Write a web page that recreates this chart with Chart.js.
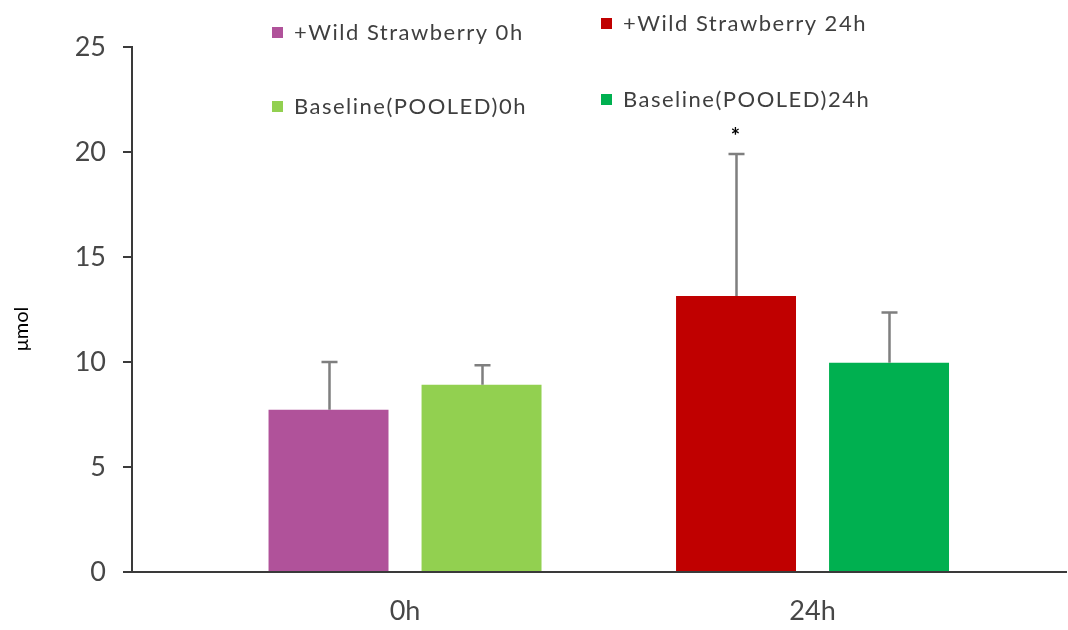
<!DOCTYPE html>
<html>
<head>
<meta charset="utf-8">
<script src="https://cdn.jsdelivr.net/npm/chart.js@4"></script>
<style>
  html, body { margin: 0; padding: 0; background: #ffffff; }
  #wrap { width: 1068px; height: 630px; }
</style>
</head>
<body>
<div id="wrap"><canvas id="c" width="1068" height="630"></canvas></div>
<script>
// Time points on the x axis
const timepoints = ['0h', '24h'];

// Mean concentration (µmol) per group
const wildStrawberry = [7.73, 13.14];
const baselinePooled = [8.92, 9.97];

// Standard deviation (drawn upward only)
const wildStrawberrySD = [2.27, 6.77];
const baselinePooledSD = [0.92, 2.39];

// Legend entries, one per bar
const legendLabels = ['+Wild Strawberry 0h', 'Baseline(POOLED)0h', '+Wild Strawberry 24h', 'Baseline(POOLED)24h'];

// Significance markers per time point
const wildStrawberrySig = ['', '*'];

// Y axis
const yTicks = [0, 5, 10, 15, 20, 25];

const wildColors = ['#B0529A', '#C00000'];
const baseColors = ['#92D050', '#00B050'];
const legendColors = [wildColors[0], baseColors[0], wildColors[1], baseColors[1]];
const axisColor = '#3a3a3a';
const textColor = '#474747';
const FONT = 'Lato, "Open Sans", sans-serif';

const sdByDataset = [wildStrawberrySD, baselinePooledSD];
const sigByDataset = [wildStrawberrySig, ['', '']];

// Upward error bars plus significance marks
const errorBars = {
  id: 'errorBars',
  afterDatasetsDraw(chart) {
    const ctx = chart.ctx;
    const yScale = chart.scales.y;
    chart.data.datasets.forEach((ds, di) => {
      const meta = chart.getDatasetMeta(di);
      meta.data.forEach((bar, i) => {
        const v = ds.data[i].y;
        const top = yScale.getPixelForValue(v + sdByDataset[di][i]);
        const x = Math.round(bar.x) + 0.5;
        ctx.save();
        ctx.strokeStyle = '#7f7f7f';
        ctx.lineWidth = 2.5;
        ctx.beginPath();
        ctx.moveTo(x, bar.y);
        ctx.lineTo(x, top);
        ctx.moveTo(x - 8, top);
        ctx.lineTo(x + 8, top);
        ctx.stroke();
        const sig = sigByDataset[di][i];
        if (sig) {
          ctx.fillStyle = '#000000';
          ctx.font = 'bold 22px ' + FONT;
          ctx.textAlign = 'center';
          ctx.textBaseline = 'middle';
          ctx.fillText(sig, x - 1, top - 17);
        }
        ctx.restore();
      });
    });
  }
};

// Two-column legend placed inside the plot area
const legendPos = [
  { x: 272, y: 33 },
  { x: 272, y: 107 },
  { x: 601, y: 24 },
  { x: 601, y: 100 }
];
const boxLegend = {
  id: 'boxLegend',
  afterDraw(chart) {
    const ctx = chart.ctx;
    ctx.save();
    ctx.font = '22px ' + FONT;
    if ('letterSpacing' in ctx) ctx.letterSpacing = '1.5px';
    ctx.textBaseline = 'middle';
    ctx.textAlign = 'left';
    legendLabels.forEach((lab, i) => {
      const p = legendPos[i];
      ctx.fillStyle = legendColors[i];
      ctx.fillRect(p.x, p.y - 6, 11, 11);
      ctx.fillStyle = '#3f3f3f';
      ctx.fillText(lab, p.x + 22, p.y);
    });
    ctx.restore();
  }
};

// Y axis title
const yTitle = {
  id: 'yTitle',
  afterDraw(chart) {
    const ctx = chart.ctx;
    ctx.save();
    ctx.translate(22, 329);
    ctx.rotate(-Math.PI / 2);
    ctx.font = '20px ' + FONT;
    ctx.fillStyle = '#000000';
    ctx.textAlign = 'center';
    ctx.textBaseline = 'middle';
    ctx.fillText('μmol', 0, 0);
    ctx.restore();
  }
};

new Chart(document.getElementById('c'), {
  type: 'bar',
  data: {
    datasets: [
      {
        label: '+Wild Strawberry',
        data: timepoints.map((t, i) => ({ x: i, y: wildStrawberry[i] })),
        backgroundColor: wildColors,
        categoryPercentage: 0.751,
        barPercentage: 0.784
      },
      {
        label: 'Baseline(POOLED)',
        data: timepoints.map((t, i) => ({ x: i, y: baselinePooled[i] })),
        backgroundColor: baseColors,
        categoryPercentage: 0.751,
        barPercentage: 0.784
      }
    ]
  },
  options: {
    responsive: false,
    animation: false,
    layout: { padding: { top: 47, right: 2, bottom: 0, left: 0 } },
    plugins: {
      legend: { display: false },
      tooltip: { enabled: false }
    },
    scales: {
      x: {
        type: 'linear',
        offset: false,
        min: -0.67,
        max: 1.622,
        afterBuildTicks(scale) {
          scale.ticks = timepoints.map((t, i) => ({ value: i }));
        },
        afterFit(scale) { scale.height = 58; },
        grid: { display: false, drawTicks: false, offset: false },
        border: { display: true, color: axisColor, width: 2 },
        ticks: {
          callback: (v) => timepoints[v],
          color: textColor,
          font: { family: FONT, size: 27 },
          padding: 23,
          maxRotation: 0
        }
      },
      y: {
        min: 0,
        max: 25,
        afterBuildTicks(scale) {
          scale.ticks = yTicks.map(v => ({ value: v }));
        },
        afterFit(scale) { scale.width = 132; },
        grid: {
          drawOnChartArea: false,
          drawTicks: true,
          tickLength: 9,
          color: axisColor,
          lineWidth: 2
        },
        border: { display: true, color: axisColor, width: 2 },
        ticks: {
          color: textColor,
          font: { family: FONT, size: 27 },
          padding: 17
        }
      }
    }
  },
  plugins: [errorBars, boxLegend, yTitle]
});
</script>
</body>
</html>
